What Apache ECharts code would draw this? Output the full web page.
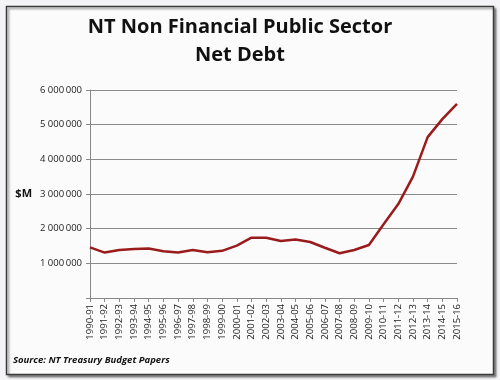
<!DOCTYPE html>
<html>
<head>
<meta charset="utf-8">
<script src="https://cdn.jsdelivr.net/npm/echarts@6/dist/echarts.min.js"></script>
<style>
  html, body { margin: 0; padding: 0; background: #f4f4f6; }
  #chart { width: 500px; height: 380px; }
</style>
</head>
<body>
<div id="chart"></div>
<script>
var years = ['1990-91', '1991-92', '1992-93', '1993-94', '1994-95', '1995-96', '1996-97',
    '1997-98', '1998-99', '1999-00', '2000-01', '2001-02', '2002-03', '2003-04', '2004-05',
    '2005-06', '2006-07', '2007-08', '2008-09', '2009-10', '2010-11', '2011-12', '2012-13',
    '2013-14', '2014-15', '2015-16'];

var netDebt = [1460000, 1310000, 1385000, 1410000, 1430000, 1350000, 1310000,
    1385000, 1320000, 1360000, 1510000, 1740000, 1740000, 1645000, 1690000,
    1615000, 1450000, 1290000, 1385000, 1530000, 2130000, 2710000, 3500000,
    4640000, 5160000, 5600000];

var yTicks = [0, 1000000, 2000000, 3000000, 4000000, 5000000, 6000000];

function fmtMillions(v) {
    if (v === 0) return '';
    var s = String(v);
    // Excel style space separators
    return s.slice(0, s.length - 6) + ' ' + s.slice(-6, -3) + '\u2009' + s.slice(-3);
}

var chart = echarts.init(document.getElementById('chart'));
chart.setOption({
    backgroundColor: '#f4f4f6',
    animation: false,
    graphic: [{
        type: 'rect',
        shape: { x: 6.5, y: 6.5, width: 487, height: 368 },
        style: { fill: '#fbfbfc', stroke: '#3a3a3a', lineWidth: 1.5,
            shadowColor: 'rgba(0,0,0,0.4)', shadowOffsetX: 2, shadowOffsetY: 2, shadowBlur: 2 },
        z: -10
    }, {
        type: 'text',
        left: 13, top: 355,
        style: {
            text: 'Source: NT Treasury Budget Papers',
            font: 'italic bold 9.5px "Open Sans", sans-serif',
            fill: '#111'
        }
    }],
    title: {
        text: 'NT Non Financial Public Sector\nNet Debt',
        left: 235, top: 8,
        textAlign: 'center',
        textStyle: {
            fontFamily: '"Open Sans", sans-serif',
            fontSize: 20, fontWeight: 'bold', color: '#111', lineHeight: 28
        }
    },
    grid: { left: 90, right: 43, top: 90, bottom: 82 },
    xAxis: {
        type: 'category',
        data: years,
        boundaryGap: false,
        axisLine: { lineStyle: { color: '#888', width: 1 } },
        axisTick: { alignWithLabel: true, length: 4, lineStyle: { color: '#888' } },
        axisLabel: {
            rotate: 90, interval: 0, margin: 6, color: '#222',
            fontFamily: '"Open Sans", sans-serif', fontSize: 9.5
        }
    },
    yAxis: {
        type: 'value',
        min: yTicks[0], max: yTicks[yTicks.length - 1], interval: 1000000,
        name: '$M',
        nameLocation: 'middle', nameRotate: 0, nameGap: 58,
        nameTextStyle: { fontFamily: '"Open Sans", sans-serif', fontSize: 11, fontWeight: 'bold', color: '#111' },
        axisLine: { show: true, lineStyle: { color: '#888' } },
        axisTick: { show: true, length: 4, lineStyle: { color: '#888' } },
        splitLine: { lineStyle: { color: '#8a8a8a', width: 1 } },
        axisLabel: {
            formatter: fmtMillions, margin: 8, color: '#222',
            fontFamily: '"Open Sans", sans-serif', fontSize: 9.5
        }
    },
    series: [{
        type: 'line',
        data: netDebt,
        showSymbol: false,
        lineStyle: { color: '#9a1b1b', width: 2.5 }
    }]
});
</script>
</body>
</html>
